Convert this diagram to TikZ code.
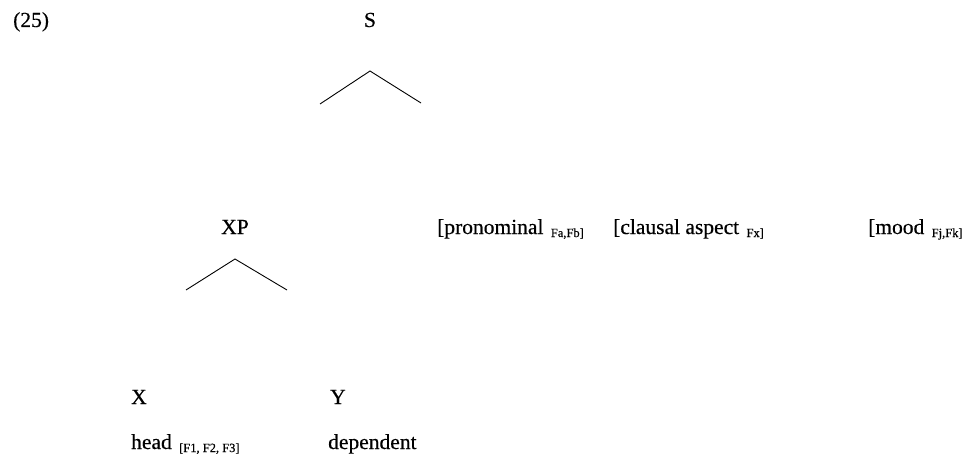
\documentclass[tikz,border=0pt]{standalone}
\usepackage{fontspec}
\setmainfont[FakeBold=0.4]{Liberation Serif}
\newcommand{\subtxt}[1]{\hspace{2pt}\raisebox{-3pt}{\fontsize{12.5}{12.5}\selectfont #1}}
\begin{document}
\begin{tikzpicture}[x=1pt,y=1pt,
  lbl/.style={inner sep=0pt,anchor=base west,font=\fontsize{21.5}{21.5}\selectfont},
  clbl/.style={inner sep=0pt,anchor=base,font=\fontsize{21.5}{21.5}\selectfont},
  branch/.style={line width=0.9pt}]
\useasboundingbox (0,0) rectangle (980,467);
% y = 467 - pixel y
\node[lbl] (num) at (13,440) {(25)};
\node[clbl] (S) at (370,440) {S};
\coordinate (sApex) at (370,396);
\coordinate (sL) at (320,363);
\coordinate (sR) at (421,364);
\draw[branch] (sL) -- (sApex) -- (sR);

\node[clbl] (XP) at (235,233) {XP};
\node[lbl] (pron) at (437,233) {[pronominal \subtxt{Fa,Fb]}};
\node[lbl] (asp) at (613,233) {[clausal aspect \subtxt{Fx]}};
\node[lbl] (mood) at (868,233) {[mood \subtxt{Fj,Fk]}};

\coordinate (xApex) at (235,208);
\coordinate (xL) at (186,177);
\coordinate (xR) at (287,177);
\draw[branch] (xL) -- (xApex) -- (xR);

\node[lbl] (X) at (131,63) {X};
\node[lbl] (Y) at (330,63) {Y};
\node[lbl] (head) at (131,18) {head \subtxt{[F1, F2, F3]}};
\node[lbl] (dep) at (328,18) {dependent};
\end{tikzpicture}
\end{document}
